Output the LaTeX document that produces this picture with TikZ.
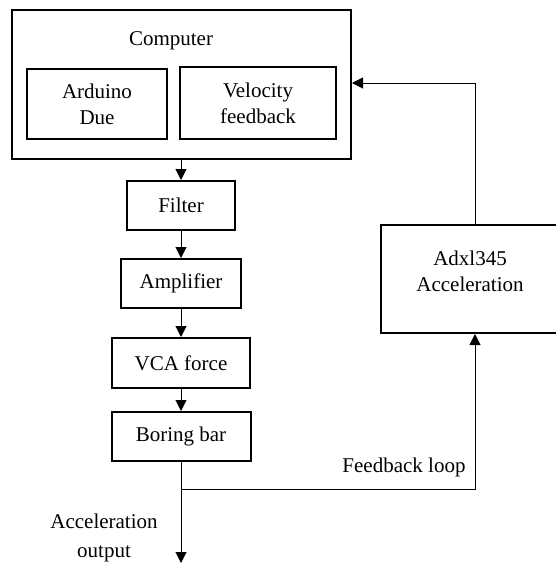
\documentclass[tikz,border=0pt]{standalone}
\usepackage{fontspec}
\setmainfont{Liberation Serif}
\usetikzlibrary{arrows.meta, positioning, calc}

\begin{document}
\begin{tikzpicture}[x=1pt, y=-1pt,
	font=\fontsize{21}{26}\selectfont,
	fl/.style={-{Triangle[length=11pt, width=11pt]}, line width=1pt},
	ln/.style={line width=1pt},
	blk/.style={draw, line width=2pt, align=center, inner sep=0pt}]

	\useasboundingbox (0,0) rectangle (555,563);

	% ---------- computer ----------
	\node[blk, minimum width=339pt, minimum height=149pt] (comp) at (181.5,84.5) {};
	\node (ctit) at (171,41) {Computer};
	\node[blk, minimum width=140pt, minimum height=70pt] (ard) at (97,104) {Arduino\\Due};
	\node[blk, minimum width=156pt, minimum height=72pt] (vel) at (258,103) {Velocity\\feedback};

	% ---------- forward path ----------
	\node[blk, minimum width=108pt, minimum height=49pt] (filt) at (181,205.5) {Filter};
	\node[blk, minimum width=120pt, minimum height=49pt] (amp)  at (181,283.5) {Amplifier};
	\node[blk, minimum width=138pt, minimum height=50pt] (vca)  at (181,363) {VCA force};
	\node[blk, minimum width=139pt, minimum height=49pt] (bore) at (181,436.5) {Boring bar};

	\draw[fl] (comp.south -| filt) -- (filt);
	\draw[fl] (filt) -- (amp);
	\draw[fl] (amp) -- (vca);
	\draw[fl] (vca) -- (bore);

	\coordinate (split) at (181,489);
	\coordinate (out) at (181,563);
	\draw[ln] (bore) -- (split);
	\draw[fl] (split) -- (out);
	\node[align=center, font=\fontsize{21}{29}\selectfont] (acc) at (104,538) {Acceleration\\output};

	% ---------- sensor and loop ----------
	\node[blk, minimum width=178pt, minimum height=108pt] (adxl) at (470,279) {};
	\node[align=center] (adxlt) at (470,271) {Adxl345\\Acceleration};
	\coordinate (fb) at (475,489);
	\coordinate (up) at (475,83);
	\draw[fl] (split) -- (fb) -- (fb |- adxl.south);
	\draw[fl] (up |- adxl.north) -- (up) -- (up -| comp.east);
	\node (fbl) at (404,467) {Feedback loop};
\end{tikzpicture}
\end{document}
